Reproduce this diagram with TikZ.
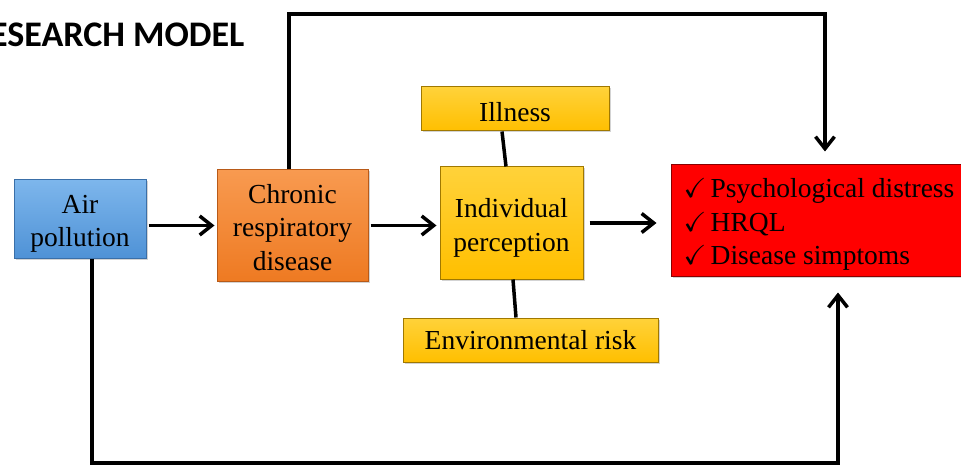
\documentclass[tikz,border=0pt]{standalone}
\usepackage{fontspec}
\setmainfont{Liberation Serif}
\newfontfamily\titlefont{Carlito}
\usepackage{amssymb}
\usetikzlibrary{arrows.meta,shadows}
\definecolor{bluetop}{HTML}{7DB6EC}
\definecolor{bluebot}{HTML}{4F92D6}
\definecolor{bluedark}{HTML}{3A6FA8}
\definecolor{orgtop}{HTML}{F89A50}
\definecolor{orgbot}{HTML}{EE7A22}
\definecolor{orgdark}{HTML}{B85A18}
\definecolor{goldtop}{HTML}{FFD23A}
\definecolor{goldbot}{HTML}{FFBF00}
\definecolor{golddark}{HTML}{A07800}
\definecolor{reddark}{HTML}{8A0000}
\newcommand{\ckitem}{\makebox[27pt][l]{$\checkmark$}}
\begin{document}
\begin{tikzpicture}[x=1pt,y=-1pt,
  every node/.style={font=\fontsize{27.5}{33.5}\selectfont},
  boxbase/.style={rectangle, inner sep=0pt, line width=1pt,
    drop shadow={shadow xshift=1.5pt, shadow yshift=-1.5pt, opacity=0.35}},
  bluebox/.style={boxbase, draw=bluedark, top color=bluetop, bottom color=bluebot},
  orangebox/.style={boxbase, draw=orgdark, top color=orgtop, bottom color=orgbot},
  goldbox/.style={boxbase, draw=golddark, top color=goldtop, bottom color=goldbot},
  redbox/.style={boxbase, draw=reddark, fill=red},
  txt/.style={inner sep=0pt, align=center},
  conn/.style={line width=3.5pt},
  arr/.style={conn, -{Straight Barb[length=12pt,width=19pt,line width=3.5pt]}}
]
\useasboundingbox (0,0) rectangle (961,465);
\clip (0,0) rectangle (961,465);

\node[anchor=base east, font=\titlefont\bfseries\fontsize{36}{42}\selectfont] (title) at (248,47) {ESEARCH MODEL};

\node[bluebox, minimum width=132pt, minimum height=78pt] (air) at (80,219) {};
\node[txt] (airtxt) at ([yshift=-5pt]air.center) {Air\\pollution};
\node[orangebox, minimum width=151pt, minimum height=111pt] (chronic) at (292.5,225.5) {};
\node[txt] (chronictxt) at ([yshift=-2pt]chronic.center) {Chronic\\respiratory\\disease};
\node[goldbox, minimum width=143pt, minimum height=112pt] (indiv) at (511.5,223) {};
\node[txt] (indivtxt) at ([yshift=-5pt]indiv.center) {Individual\\perception};
\node[goldbox, minimum width=188pt, minimum height=44pt] (ill) at (515,109) {};
\node[txt] (illtxt) at ([yshift=-3pt]ill.center) {Illness};
\node[goldbox, minimum width=255pt, minimum height=44pt] (env) at (530.5,340) {};
\node[txt] (envtxt) at (env.center) {Environmental risk};
\node[redbox, minimum width=310pt, minimum height=111pt] (out) at (826,220.5) {};
\node[txt, align=left, anchor=west] (outtxt) at ([xshift=13pt,yshift=-4pt]out.west)
  {\ckitem Psychological distress\\\ckitem HRQL\\\ckitem Disease simptoms};

\draw[arr, shorten <=2pt, shorten >=2pt] (air.east |- chronic.west) -- (chronic.west);
\draw[arr, shorten <=2pt, shorten >=3pt] (chronic.east) -- (chronic.east -| indiv.west);
\draw[arr, shorten <=6pt, shorten >=14pt] (indiv.east) -- (indiv.east -| out.west);

\draw[conn] ([xshift=-13pt]ill.south) -- ([xshift=-5.5pt]indiv.north);
\draw[conn] ([xshift=1.5pt]indiv.south) -- ([xshift=-14.5pt]env.north);

\coordinate (topline) at (0,14);
\coordinate (botline) at (0,463);
\coordinate (outtop) at ([xshift=-1pt]out.north);
\coordinate (outbot) at ([xshift=12pt]out.south);
\coordinate (chrtop) at ([xshift=-3.5pt]chronic.north);
\coordinate (airbot) at ([xshift=12pt]air.south);
\draw[arr, shorten >=13pt] (chrtop) |- (topline -| outtop) -- (outtop);
\draw[arr, shorten >=16pt] (airbot) |- (botline -| outbot) -- (outbot);
\end{tikzpicture}
\end{document}
